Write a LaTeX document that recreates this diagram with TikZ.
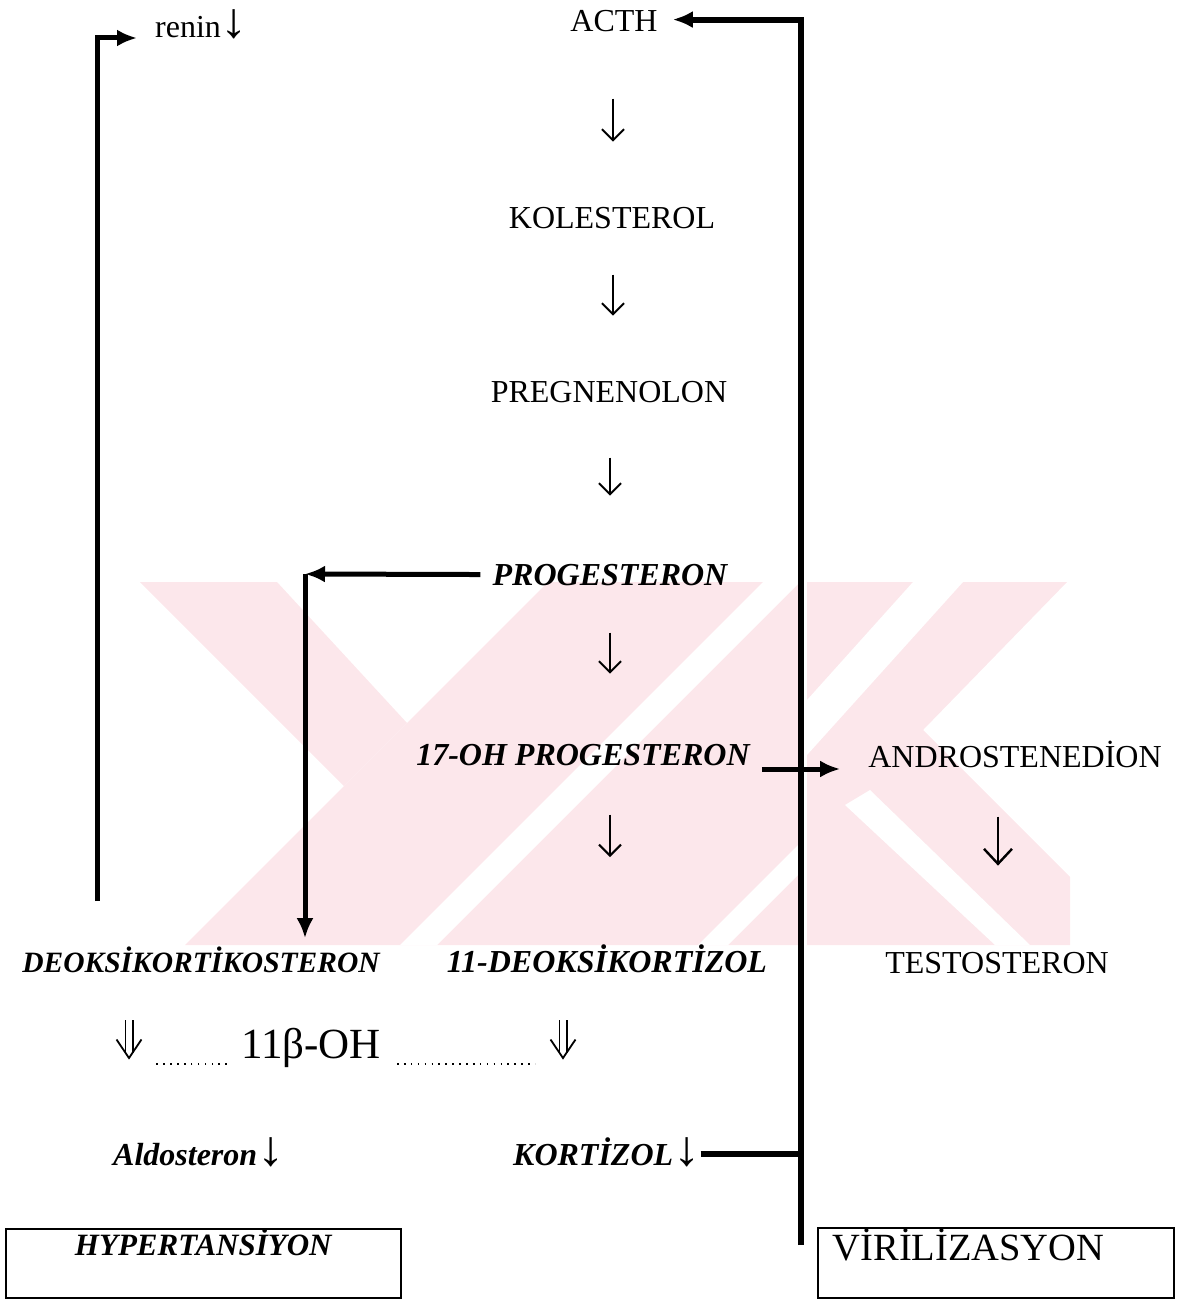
\documentclass[tikz,border=0pt]{standalone}
\usepackage{fontspec}
\usepackage{graphicx}
\setmainfont{Liberation Serif}
\usetikzlibrary{arrows.meta,calc}
\definecolor{wmpink}{RGB}{252,231,235}
\newcommand{\dnglyph}{\scalebox{1.7}[1.55]{↓}}
\begin{document}
\begin{tikzpicture}[x=1pt,y=-1pt,
  txt/.style={inner sep=0pt, anchor=base, font=\fontsize{32}{38}\selectfont},
  bi/.style={inner sep=0pt, anchor=base, font=\fontsize{32}{38}\selectfont\bfseries\itshape},
  bigline/.style={line width=6pt},
  thk/.style={line width=5pt},
  bigtip/.style={-{Latex[length=20pt,width=17pt]}},
  garr/.style={line width=2pt, -{Straight Barb[length=11pt,width=22pt]}},
  garrb/.style={line width=2.4pt, -{Straight Barb[length=15pt,width=28pt]}},
  dshaft/.style={double, double distance=6pt, line width=1.5pt},
  dhead/.style={line width=1.8pt, line join=miter},
  dotln/.style={line width=1.6pt, dash pattern=on 1.6pt off 5.3pt},
  boxst/.style={draw, line width=1.6pt, inner xsep=0pt, inner ysep=0pt, anchor=north west}
]
\useasboundingbox (0,0) rectangle (1178,1306);
% watermark
\fill[wmpink] (140,582) -- (277,582) -- (407,723) -- (344,786) -- cycle;
\fill[wmpink] (548,582) -- (800,582) -- (800,945) -- (185,945) -- cycle;
\fill[white] (763,582) -- (800,582) -- (437,945) -- (400,945) -- cycle;
\fill[white] (800,843) -- (800,873) -- (728,945) -- (698,945) -- cycle;
\fill[wmpink] (807,582) -- (1067,582) -- (923,730) -- (1070,877) -- (1070,945) -- (807,945) -- cycle;
\fill[white] (913,582) -- (963,582) -- (807,755) -- (807,700) -- cycle;
\fill[white] (845,805) -- (870,790) -- (1030,945) -- (995,945) -- cycle;

% nodes
\node[txt] (acth) at (614,32) {ACTH};
\node[txt, anchor=base west] (renin) at (155,38) {renin\dnglyph};
\node[txt] (kol) at (612,228) {KOLESTEROL};
\node[txt] (preg) at (609,402) {PREGNENOLON};
\node[bi] (prog) at (610,585) {PROGESTERON};
\node[bi] (ohp) at (583,765) {17-OH PROGESTERON};
\node[txt] (andro) at (1015,767) {ANDROSTENEDİON};
\node[bi, font=\fontsize{29.5}{35}\selectfont\bfseries\itshape] (doc) at (201,972) {DEOKSİKORTİKOSTERON};
\node[bi] (dkort) at (607,972) {11-DEOKSİKORTİZOL};
\node[txt] (testo) at (997,973) {TESTOSTERON};
\node[txt, font=\fontsize{43}{50}\selectfont] (enz) at (311,1058) {11β-OH};
\node[bi, anchor=base west] (aldo) at (113,1165) {Aldosteron\dnglyph};
\node[bi, anchor=base west] (kort) at (513,1165) {KORTİZOL\dnglyph};
\node[boxst, text width=395pt, align=center, text height=27pt, text depth=42pt,
  font=\fontsize{31}{36}\selectfont\bfseries\itshape] (hyp) at (5,1228) {HYPERTANSİYON};
\node[boxst, inner xsep=15pt, text width=326pt, align=left, text height=33pt, text depth=37pt,
  font=\fontsize{38.5}{44}\selectfont] (vir) at (817,1227) {VİRİLİZASYON};

% glyph-like arrows in the main chain
\draw[garr, shorten <=66pt, shorten >=65pt] (acth.south -| 613,0) -- (kol.north -| 613,0);
\draw[garr, shorten <=46pt, shorten >=65pt] (kol.south -| 613,0) -- (preg.north -| 613,0);
\draw[garr, shorten <=55pt, shorten >=68pt] (preg.south -| 610,0) -- (prog.north -| 610,0);
\draw[garr, shorten <=47pt, shorten >=70pt] (prog.south -| 610,0) -- (ohp.north -| 610,0);
\draw[garr, shorten <=49pt, shorten >=87pt] (ohp.south -| 610,0) -- (dkort.north -| 610,0);
\draw[garrb, shorten <=49pt, shorten >=86pt] (andro.south -| 998,0) -- (testo.north -| 998,0);

% double arrows (11beta-hydroxylase step)
\coordinate (d1) at (doc.south -| 129,0);
\coordinate (d2) at (dkort.south -| 563,0);
\foreach \d in {d1,d2}{
  \draw[dshaft] ($(\d)+(0,47.5)$) -- ($(\d)+(0,80)$);
  \draw[dhead] ($(\d)+(-12.5,67)$) -- ($(\d)+(0,85.5)$) -- ($(\d)+(12.5,67)$);
}
\draw[dotln] ([xshift=-14pt,yshift=-6pt]enz.base west) -- ++(-75,0);
\draw[dotln] ([xshift=16pt,yshift=-6pt]enz.base east) -- ++(138,0);

% thick feedback lines
\coordinate (vb) at (801,1245);
\coordinate (kj) at (801,1154);
\draw[bigline, bigtip, shorten >=15pt] (vb) |- ([yshift=2pt]acth.east);
\draw[bigline] (kort.east |- kj) -- (kj);
\draw[thk, bigtip, shorten <=12pt, shorten >=28pt] (ohp.east |- 0,769) -- (andro.west |- 0,769);
\draw[thk, bigtip, shorten <=45pt, shorten >=18pt] (doc.north -| 97,0) |- (renin.base west);
\coordinate (pc) at (305,574);
\draw[thk, bigtip, shorten <=12pt] (prog.west) -- (pc);
\draw[thk, bigtip, shorten >=8pt] (pc) -- (pc |- doc.north);
\end{tikzpicture}
\end{document}
